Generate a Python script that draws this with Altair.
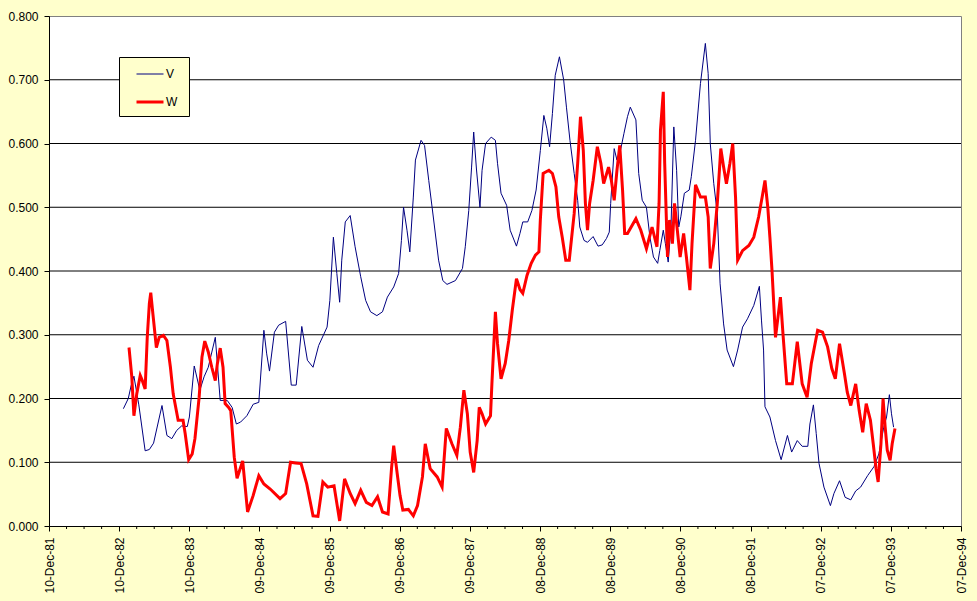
import altair as alt
import pandas as pd

# ---------------- data ----------------
series_names = ["V", "W"]
series_colors = ["#000080", "#FF0000"]

v_year = [1983.00, 1983.07, 1983.11, 1983.15, 1983.22, 1983.31, 1983.37, 1983.43, 1983.55, 1983.62, 1983.69, 1983.76, 1983.83, 1983.91, 1983.94,
          1984.01, 1984.09, 1984.15, 1984.21, 1984.31, 1984.38, 1984.48, 1984.55, 1984.61, 1984.67, 1984.76, 1984.85, 1984.93,
          1985.00, 1985.04, 1985.08, 1985.15, 1985.21, 1985.31, 1985.39, 1985.46, 1985.54, 1985.62, 1985.70, 1985.78, 1985.90, 1985.94, 1985.99,
          1986.04, 1986.08, 1986.11, 1986.16, 1986.23, 1986.30, 1986.38, 1986.45, 1986.52, 1986.61, 1986.69, 1986.76, 1986.85, 1986.92, 1986.96, 1986.99,
          1987.04, 1987.08, 1987.13, 1987.16, 1987.24, 1987.29, 1987.35, 1987.42, 1987.49, 1987.55, 1987.61, 1987.73, 1987.83, 1987.87, 1987.92, 1987.96, 1987.99,
          1988.03, 1988.08, 1988.11, 1988.16, 1988.24, 1988.30, 1988.33, 1988.38, 1988.46, 1988.51, 1988.60, 1988.65, 1988.69, 1988.76, 1988.82, 1988.88, 1988.94, 1988.99,
          1989.03, 1989.07, 1989.11, 1989.15, 1989.21, 1989.27, 1989.31, 1989.36, 1989.42, 1989.47, 1989.50, 1989.56, 1989.61, 1989.69, 1989.76, 1989.82, 1989.88, 1989.92, 1989.94, 1989.99,
          1990.03, 1990.08, 1990.13, 1990.18, 1990.22, 1990.30, 1990.34, 1990.39, 1990.45, 1990.50, 1990.55, 1990.61, 1990.64, 1990.69, 1990.72, 1990.76, 1990.80, 1990.84, 1990.88, 1990.91, 1990.94, 1990.99,
          1991.06, 1991.09, 1991.15, 1991.22, 1991.29, 1991.33, 1991.36, 1991.41, 1991.46, 1991.50, 1991.55, 1991.60, 1991.69, 1991.75, 1991.82, 1991.89, 1991.98,
          1992.06, 1992.09, 1992.12, 1992.14, 1992.21, 1992.29, 1992.37, 1992.46, 1992.52, 1992.60, 1992.67, 1992.75, 1992.78, 1992.83, 1992.87, 1992.91, 1992.98,
          1993.07, 1993.12, 1993.20, 1993.28, 1993.36, 1993.43, 1993.50, 1993.60, 1993.69, 1993.76, 1993.83, 1993.87, 1993.91, 1993.94, 1993.97]
v_value = [0.184, 0.200, 0.220, 0.235, 0.190, 0.118, 0.120, 0.130, 0.189, 0.142, 0.137, 0.150, 0.157, 0.156, 0.171,
           0.251, 0.213, 0.234, 0.249, 0.296, 0.197, 0.197, 0.186, 0.160, 0.163, 0.173, 0.191, 0.194,
           0.307, 0.270, 0.243, 0.304, 0.315, 0.321, 0.221, 0.221, 0.313, 0.260, 0.249, 0.283, 0.312, 0.354, 0.453,
           0.396, 0.351, 0.417, 0.477, 0.487, 0.438, 0.391, 0.354, 0.336, 0.330, 0.336, 0.359, 0.375, 0.396, 0.448, 0.500,
           0.464, 0.430, 0.516, 0.574, 0.605, 0.597, 0.542, 0.480, 0.417, 0.385, 0.379, 0.385, 0.404, 0.438, 0.495, 0.563, 0.618,
           0.560, 0.500, 0.558, 0.600, 0.610, 0.605, 0.569, 0.522, 0.503, 0.464, 0.439, 0.459, 0.477, 0.477, 0.495, 0.527, 0.589, 0.644,
           0.624, 0.595, 0.647, 0.707, 0.736, 0.700, 0.657, 0.605, 0.553, 0.511, 0.469, 0.448, 0.445, 0.454, 0.439, 0.441, 0.451, 0.461, 0.506, 0.592,
           0.574, 0.589, 0.616, 0.642, 0.657, 0.637, 0.553, 0.511, 0.500, 0.453, 0.422, 0.412, 0.432, 0.464, 0.443, 0.414, 0.469, 0.626, 0.558, 0.469, 0.485, 0.522,
           0.527, 0.548, 0.605, 0.694, 0.757, 0.710, 0.600, 0.537, 0.490, 0.380, 0.317, 0.276, 0.250, 0.276, 0.312, 0.325, 0.346,
           0.376, 0.323, 0.276, 0.187, 0.171, 0.134, 0.104, 0.142, 0.116, 0.134, 0.125, 0.125, 0.160, 0.190, 0.145, 0.098, 0.061,
           0.032, 0.051, 0.071, 0.045, 0.041, 0.055, 0.061, 0.079, 0.093, 0.113, 0.155, 0.171, 0.206, 0.176, 0.155]

w_year = [1983.08, 1983.12, 1983.15, 1983.19, 1983.24, 1983.27, 1983.31, 1983.34, 1983.37, 1983.39, 1983.42, 1983.47, 1983.51, 1983.57, 1983.62, 1983.67, 1983.71, 1983.78, 1983.85, 1983.88, 1983.93, 1983.98,
          1984.02, 1984.08, 1984.12, 1984.16, 1984.21, 1984.26, 1984.31, 1984.34, 1984.38, 1984.42, 1984.45, 1984.50, 1984.53, 1984.58, 1984.62, 1984.70, 1984.77, 1984.85, 1984.93,
          1985.00, 1985.09, 1985.23, 1985.31, 1985.38, 1985.45, 1985.53, 1985.61, 1985.70, 1985.77, 1985.84, 1985.91,
          1986.00, 1986.08, 1986.15, 1986.23, 1986.30, 1986.38, 1986.46, 1986.54, 1986.62, 1986.69, 1986.77, 1986.82, 1986.85, 1986.90, 1986.94, 1986.98,
          1987.06, 1987.13, 1987.19, 1987.26, 1987.30, 1987.37, 1987.47, 1987.54, 1987.60, 1987.68, 1987.75, 1987.80, 1987.85, 1987.90, 1987.94, 1987.99,
          1988.04, 1988.07, 1988.11, 1988.16, 1988.23, 1988.25, 1988.28, 1988.30, 1988.33, 1988.38, 1988.44, 1988.49, 1988.54, 1988.60, 1988.65, 1988.69, 1988.75, 1988.81, 1988.87, 1988.92, 1988.94, 1988.98,
          1989.06, 1989.11, 1989.16, 1989.20, 1989.25, 1989.30, 1989.35, 1989.42, 1989.47, 1989.51, 1989.55, 1989.58, 1989.61, 1989.64, 1989.69, 1989.75, 1989.80, 1989.84, 1989.91, 1989.95, 1989.99,
          1990.03, 1990.07, 1990.11, 1990.14, 1990.18, 1990.30, 1990.37, 1990.45, 1990.53, 1990.60, 1990.63, 1990.65, 1990.69, 1990.71, 1990.75, 1990.78, 1990.82, 1990.85, 1990.89, 1990.93, 1990.98,
          1991.02, 1991.07, 1991.10, 1991.15, 1991.22, 1991.29, 1991.33, 1991.36, 1991.41, 1991.46, 1991.51, 1991.55, 1991.59, 1991.64, 1991.68, 1991.72, 1991.75, 1991.82, 1991.91, 1991.98,
          1992.05, 1992.10, 1992.14, 1992.18, 1992.21, 1992.24, 1992.29, 1992.32, 1992.36, 1992.40, 1992.45, 1992.53, 1992.60, 1992.67, 1992.74, 1992.80, 1992.89, 1992.96,
          1993.03, 1993.09, 1993.14, 1993.20, 1993.27, 1993.31, 1993.36, 1993.43, 1993.48, 1993.53, 1993.58, 1993.64, 1993.68, 1993.72, 1993.75, 1993.79, 1993.82, 1993.85, 1993.88, 1993.92, 1993.95, 1993.99]
w_value = [0.280, 0.234, 0.173, 0.207, 0.236, 0.228, 0.215, 0.296, 0.349, 0.366, 0.333, 0.280, 0.296, 0.299, 0.291, 0.249, 0.207, 0.166, 0.166, 0.145, 0.104, 0.113,
           0.137, 0.202, 0.265, 0.290, 0.273, 0.249, 0.228, 0.255, 0.279, 0.249, 0.192, 0.186, 0.181, 0.108, 0.075, 0.102, 0.022, 0.048, 0.079,
           0.066, 0.058, 0.043, 0.051, 0.100, 0.099, 0.098, 0.066, 0.016, 0.015, 0.069, 0.061,
           0.063, 0.008, 0.074, 0.051, 0.035, 0.056, 0.037, 0.032, 0.046, 0.022, 0.019, 0.092, 0.126, 0.082, 0.048, 0.025,
           0.026, 0.016, 0.032, 0.077, 0.129, 0.090, 0.077, 0.061, 0.153, 0.129, 0.111, 0.155, 0.213, 0.176, 0.116, 0.084,
           0.134, 0.186, 0.176, 0.160, 0.173, 0.223, 0.291, 0.336, 0.286, 0.231, 0.255, 0.291, 0.338, 0.388, 0.371, 0.365, 0.393, 0.412, 0.425, 0.430, 0.480, 0.553,
           0.558, 0.553, 0.532, 0.485, 0.453, 0.417, 0.417, 0.490, 0.569, 0.642, 0.589, 0.506, 0.464, 0.506, 0.542, 0.595, 0.569, 0.537, 0.563, 0.542, 0.511,
           0.558, 0.597, 0.527, 0.459, 0.459, 0.482, 0.464, 0.435, 0.469, 0.438, 0.506, 0.621, 0.681, 0.569, 0.422, 0.480, 0.443, 0.506, 0.464, 0.422, 0.459,
           0.422, 0.370, 0.443, 0.535, 0.516, 0.516, 0.485, 0.404, 0.443, 0.506, 0.592, 0.563, 0.537, 0.569, 0.600, 0.516, 0.417, 0.432, 0.440, 0.453,
           0.485, 0.516, 0.542, 0.500, 0.453, 0.401, 0.296, 0.323, 0.359, 0.296, 0.223, 0.223, 0.289, 0.223, 0.202, 0.255, 0.307, 0.304,
           0.281, 0.247, 0.231, 0.286, 0.239, 0.210, 0.189, 0.223, 0.181, 0.147, 0.192, 0.166, 0.129, 0.090, 0.069, 0.129, 0.200, 0.155, 0.119, 0.103, 0.129, 0.153]

major_tick_dates = ["1981-12-10", "1982-12-10", "1983-12-10", "1984-12-09", "1985-12-09",
                    "1986-12-09", "1987-12-09", "1988-12-08", "1989-12-08", "1990-12-08",
                    "1991-12-08", "1992-12-07", "1993-12-07", "1994-12-07"]
y_tick_values = [0.0, 0.1, 0.2, 0.3, 0.4, 0.5, 0.6, 0.7, 0.8]
grid_levels = [0.1, 0.2, 0.3, 0.4, 0.5, 0.6, 0.7]


# ---------------- build tables ----------------
def year_to_iso(y):
    yr = int(y)
    ts = pd.Timestamp(yr, 1, 1) + pd.Timedelta(days=(y - yr) * 365.25)
    return ts.strftime("%Y-%m-%dT%H:%M:%S")


rows = []
for name, years, vals in [("V", v_year, v_value), ("W", w_year, w_value)]:
    assert len(years) == len(vals)
    for y, v in zip(years, vals):
        rows.append({"date": year_to_iso(y), "value": v, "series": name})
df = pd.DataFrame(rows)

minor_rows = []
for a, b in zip(major_tick_dates[:-1], major_tick_dates[1:]):
    ta, tb = pd.Timestamp(a), pd.Timestamp(b)
    step = (tb - ta) / 4
    for k in range(1, 4):
        minor_rows.append({"date": (ta + step * k).strftime("%Y-%m-%dT%H:%M:%S")})
minor_df = pd.DataFrame(minor_rows)
grid_df = pd.DataFrame({"level": grid_levels})


def dt(s):
    t = pd.Timestamp(s)
    return alt.DateTime(year=t.year, month=t.month, date=t.day)


FONT = "Liberation Sans"
W, H = 912, 510
NBSP = "\u00a0"

x_scale = alt.Scale(domain=[dt(major_tick_dates[0]), dt(major_tick_dates[-1])], nice=False)
y_scale = alt.Scale(domain=[0, 0.8], nice=False, zero=False)

x_axis = alt.Axis(values=[dt(s) for s in major_tick_dates], format="%d-%b-%y",
                  labelAngle=-90, tickSize=5, labelPadding=6, grid=False, title=None,
                  labelOverlap=False, labelFlush=False, labelFont=FONT, labelFontSize=12,
                  labelColor="black", domainColor="black", tickColor="black")
y_axis = alt.Axis(values=y_tick_values, format=".3f", tickSize=5, labelPadding=6,
                  grid=False, title=None, labelFont=FONT, labelFontSize=12,
                  labelColor="black", domainColor="black", tickColor="black")

# legend box: blank multi-line title on the right only pads the box to the reference size
legend = alt.Legend(title=[NBSP, NBSP, NBSP], titleOrient="right", titleFontSize=12,
                    titleLineHeight=18, titlePadding=9, titleBaseline="top",
                    orient="none", legendX=70, legendY=41,
                    fillColor="#FFFFCC", strokeColor="black", padding=3,
                    symbolType="stroke", symbolSize=729, symbolOffset=13,
                    labelOffset=1, rowPadding=7, labelFont=FONT, labelFontSize=12,
                    labelColor="black")

grid = alt.Chart(grid_df).mark_rule(color="black", strokeWidth=1).encode(
    y=alt.Y("level:Q", scale=y_scale, axis=y_axis)
)

lines = alt.Chart(df).mark_line().encode(
    x=alt.X("date:T", scale=x_scale, axis=x_axis),
    y=alt.Y("value:Q", scale=y_scale, axis=y_axis),
    color=alt.Color("series:N", scale=alt.Scale(domain=series_names, range=series_colors), legend=legend),
    strokeWidth=alt.StrokeWidth("series:O", scale=alt.Scale(domain=series_names, range=[1, 3]), legend=legend),
)

minor = alt.Chart(minor_df).mark_rule(color="black", strokeWidth=1).encode(
    x=alt.X("date:T", scale=x_scale, axis=x_axis),
    y=alt.value(H),
    y2=alt.value(H + 3),
)

chart = alt.layer(grid, lines, minor).properties(
    width=W, height=H,
    background="#FFFFCC",
    padding={"left": 49, "top": 16, "right": 16, "bottom": 75},
    autosize=alt.AutoSizeParams(type="none"),
).configure_view(fill="white", stroke="#808080", strokeWidth=1)

chart.save("out.html", embed_options={"renderer": "svg", "actions": False})
